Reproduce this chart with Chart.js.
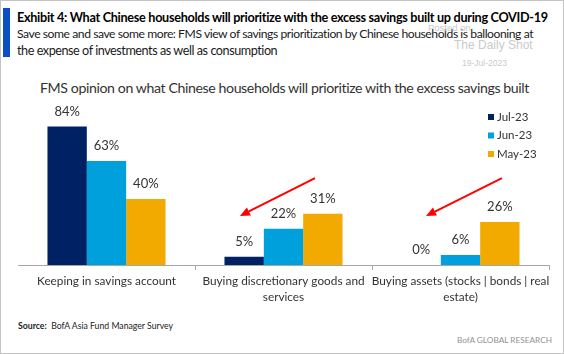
<!DOCTYPE html>
<html><head><meta charset="utf-8">
<script src="https://cdn.jsdelivr.net/npm/chart.js@4.4.0/dist/chart.umd.min.js"></script>
<style>
html,body{margin:0;padding:0;background:#fff;}
#wrap{position:relative;width:564px;height:354px;overflow:hidden;font-family:Lato,sans-serif;color:#333;}
#frame{position:absolute;left:0;top:0;width:562px;height:352px;border:1px solid #c4c4c4;}
#bluebar{position:absolute;left:3px;top:8px;width:7px;height:49px;background:#0a4fc4;}
.t{position:absolute;white-space:nowrap;}
#title{left:17px;top:9px;font-weight:bold;font-size:13px;line-height:17px;color:#000;letter-spacing:-0.3px;}
#sub1{left:17px;top:26px;font-size:13px;line-height:16.5px;color:#1a1a1a;letter-spacing:-0.45px;}
#sub2{left:17px;top:42.5px;font-size:13px;line-height:16.5px;color:#1a1a1a;letter-spacing:-0.45px;}
#ctitle{left:40px;top:79px;font-size:15px;line-height:18px;color:#333;letter-spacing:-0.4px;}
.wm{position:absolute;white-space:nowrap;font-family:"Liberation Sans",Arial,sans-serif;color:#cacaca;}
#wm1{left:428px;top:22px;font-size:9.5px;}
#wm2{left:454px;top:38px;font-size:12px;}
#wm3{left:462px;top:58px;font-size:8.5px;}
#source{left:18px;top:320px;font-size:9px;line-height:12px;color:#222;}
#bofa{left:457px;top:334px;font-size:10.5px;line-height:12px;color:#929292;}
canvas{position:absolute;left:0;top:0;}
</style></head>
<body>
<div id="wrap">
  <div id="frame"></div>
  <div id="bluebar"></div>
  <div class="t" id="title" data-w="530">Exhibit 4: What Chinese households will prioritize with the excess savings built up during COVID-19</div>
  <div class="t" id="sub1" data-w="516">Save some and save some more: FMS view of savings prioritization by Chinese households is ballooning at</div>
  <div class="t" id="sub2" data-w="260">the expense of investments as well as consumption</div>
  <div class="wm" id="wm1">Posted on</div>
  <div class="wm" id="wm2">The Daily Shot</div>
  <div class="wm" id="wm3">19-Jul-2023</div>
  <div class="t" id="ctitle" data-w="489">FMS opinion on what Chinese households will prioritize with the excess savings built</div>
  <div class="t" id="source" data-w="155"><b>Source:</b>&nbsp; BofA Asia Fund Manager Survey</div>
  <div class="t" id="bofa" data-w="95">BofA GLOBAL RESEARCH</div>
  <canvas id="c" width="564" height="354"></canvas>
</div>
<script>
// ---- data ----
const categories = [
  ['Keeping in savings account'],
  ['Buying discretionary goods and', 'services'],
  ['Buying assets (stocks | bonds | real', 'estate)']
];
const seriesNames = ['Jul-23', 'Jun-23', 'May-23'];
const jul23 = [84, 5, 0];
const jun23 = [63, 22, 6];
const may23 = [40, 31, 26];

// ---- fit header texts to the reference widths (style only) ----
document.querySelectorAll('[data-w]').forEach(el => {
  const target = parseFloat(el.dataset.w);
  for (let k = 0; k < 3; k++) {
    const w = el.getBoundingClientRect().width;
    const fs = parseFloat(getComputedStyle(el).fontSize);
    el.style.fontSize = (fs * target / w) + 'px';
  }
});

// ---- styling / annotations ----
const seriesColors = ['#002163', '#00a0dc', '#f2aa00'];
const arrowSpecs = [
  { from: [1.178, 52.7], to: [0.754, 29.7] },
  { from: [2.234, 52.7], to: [1.805, 29.7] }
];
const textColor = '#333333';
const axisColor = '#a6a6a6';

const valueLabels = {
  id: 'valueLabels',
  afterDatasetsDraw(chart) {
    const ctx = chart.ctx;
    ctx.save();
    ctx.font = '13px Lato, sans-serif';
    ctx.fillStyle = textColor;
    ctx.textAlign = 'center';
    ctx.textBaseline = 'middle';
    chart.data.datasets.forEach((ds, i) => {
      chart.getDatasetMeta(i).data.forEach((el, j) => {
        ctx.fillText(ds.data[j] + '%', el.x, el.y - 15);
      });
    });
    ctx.restore();
  }
};

const sideLegend = {
  id: 'sideLegend',
  afterDatasetsDraw(chart) {
    const ctx = chart.ctx, ca = chart.chartArea;
    ctx.save();
    ctx.font = '11.5px Lato, sans-serif';
    ctx.textBaseline = 'middle';
    ctx.textAlign = 'left';
    chart.data.datasets.forEach((ds, i) => {
      const x = ca.right - 61, y = ca.top + 17 + i * 18.5;
      ctx.fillStyle = ds.backgroundColor;
      ctx.fillRect(x, y - 3, 6, 6);
      ctx.fillStyle = textColor;
      ctx.fillText(ds.label, x + 9, y);
    });
    ctx.restore();
  }
};

const arrowsPlugin = {
  id: 'arrows',
  afterDatasetsDraw(chart) {
    const ctx = chart.ctx, xs = chart.scales.x, ys = chart.scales.y;
    ctx.save();
    ctx.strokeStyle = '#ff0000';
    ctx.fillStyle = '#ff0000';
    ctx.lineWidth = 2;
    arrowSpecs.forEach(a => {
      const x0 = xs.getPixelForValue(a.from[0]), y0 = ys.getPixelForValue(a.from[1]);
      const x1 = xs.getPixelForValue(a.to[0]), y1 = ys.getPixelForValue(a.to[1]);
      const ang = Math.atan2(y1 - y0, x1 - x0);
      const hl = 10, hw = 4.5;
      const bx = x1 - hl * Math.cos(ang), by = y1 - hl * Math.sin(ang);
      ctx.beginPath();
      ctx.moveTo(x0, y0);
      ctx.lineTo(bx, by);
      ctx.stroke();
      ctx.beginPath();
      ctx.moveTo(x1, y1);
      ctx.lineTo(bx + hw * Math.sin(ang), by - hw * Math.cos(ang));
      ctx.lineTo(bx - hw * Math.sin(ang), by + hw * Math.cos(ang));
      ctx.closePath();
      ctx.fill();
    });
    ctx.restore();
  }
};

new Chart(document.getElementById('c'), {
  type: 'bar',
  data: {
    labels: categories,
    datasets: [
      { label: seriesNames[0], data: jul23, backgroundColor: seriesColors[0] },
      { label: seriesNames[1], data: jun23, backgroundColor: seriesColors[1] },
      { label: seriesNames[2], data: may23, backgroundColor: seriesColors[2] }
    ]
  },
  options: {
    responsive: false,
    animation: false,
    devicePixelRatio: 1,
    layout: { padding: { top: 100, left: 18, right: 15, bottom: 0 } },
    datasets: { bar: { categoryPercentage: 0.667, barPercentage: 1.0, borderWidth: 0 } },
    plugins: { legend: { display: false }, title: { display: false }, tooltip: { enabled: false } },
    scales: {
      x: {
        offset: true,
        afterFit(scale) { scale.height = 89; },
        grid: {
          display: true, drawOnChartArea: false, drawTicks: true, tickLength: 5, offset: true,
          color: ctx => ctx.index === 0 ? 'rgba(0,0,0,0)' : axisColor
        },
        border: { display: true, color: axisColor, width: 1 },
        ticks: {
          color: textColor, padding: 4, maxRotation: 0, autoSkip: false,
          font: { family: 'Lato, sans-serif', size: 11.8, lineHeight: 1.3 }
        }
      },
      y: { display: false, min: 0, max: 100 }
    }
  },
  plugins: [valueLabels, sideLegend, arrowsPlugin]
});
</script>
</body></html>
